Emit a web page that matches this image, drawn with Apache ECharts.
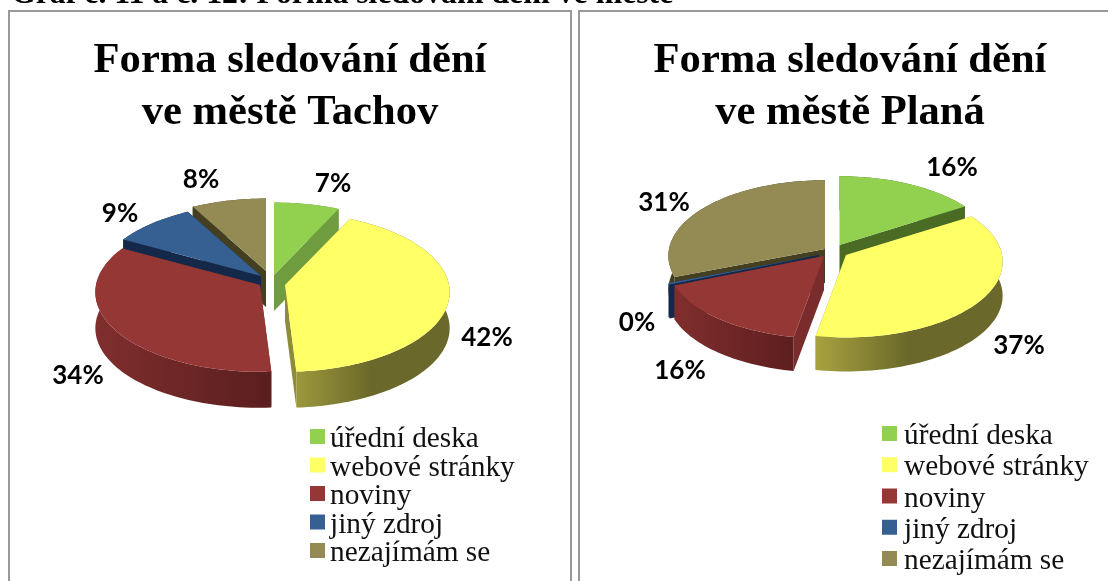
<!DOCTYPE html>
<html>
<head>
<meta charset="utf-8">
<style>html,body{margin:0;padding:0;background:#fff;overflow:hidden}#c{width:1108px;height:581px}</style>
<script src="https://cdn.jsdelivr.net/npm/echarts@6/dist/echarts.min.js"></script>
</head>
<body>
<div id="c"></div>
<script>
var categories = ['úřední deska', 'webové stránky', 'noviny', 'jiný zdroj', 'nezajímám se'];
var tachovValues = [7, 42, 34, 9, 8];
var planaValues = [16, 37, 16, 0.3, 31];
var pageHeading = 'Graf č. 11 a č. 12: Forma sledování dění ve městě';
var tachovTitle = 'Forma sledování dění\nve městě Tachov';
var planaTitle = 'Forma sledování dění\nve městě Planá';

var topColors = ['#92d050', '#ffff66', '#953735', '#376092', '#948a54'];

var pies = [
  { values: tachovValues, rx: 164, ry: 79, q: 0.09, depth: 36,
    shift: [[274, 275], [285, 285], [260, 285], [261, 276], [266, 271]],
    labels: [[333, 184], [487, 338], [78, 376], [120, 214], [201, 180]],
    radial: ['#6f9c3e', '#8e8c3a', '#7a2c2c', '#14294a', '#453f22'],
    wall: [['#6f9c3e', '#6f9c3e'], ['#9c983c', '#6a682a', '#6a682a'], ['#7f2e2d', '#5a1e1e'], ['#14294a', '#14294a'], ['#453f22', '#453f22']] },
  { values: planaValues, rx: 156, ry: 75, q: 0.09, depth: 34,
    shift: [[839.5, 245], [846, 255], [824, 256], [819, 255], [825, 249]],
    labels: [[952, 168], [1019, 346], [680, 371], [637, 323], [664, 203]],
    radial: ['#4a6b24', '#8e8c3a', '#7a2c2c', '#14294a', '#453f22'],
    wall: [['#4a6b24', '#4a6b24'], ['#a8a23f', '#6a682a', '#6a682a'], ['#7f2e2d', '#5e1e1e'], ['#14294a', '#14294a'], ['#453f22', '#453f22']] }
];

function angles(values) {
  var total = values.reduce(function (a, b) { return a + b; }, 0), acc = 0;
  return values.map(function (v) {
    var s = acc / total * Math.PI * 2; acc += v;
    return [s, acc / total * Math.PI * 2];
  });
}
function point(p, c, t, drop) {
  var X = Math.sin(t), Y = Math.cos(t), s = 1 / (1 + p.q * Y);
  return [c[0] + p.rx * s * X, c[1] - p.ry * s * Y + (drop || 0)];
}
function arc(p, c, a, b, drop) {
  var n = Math.max(2, Math.ceil((b - a) / 0.03)), out = [];
  for (var i = 0; i <= n; i++) out.push(point(p, c, a + (b - a) * i / n, drop));
  return out;
}
function gradient(stops) {
  return new echarts.graphic.LinearGradient(0, 0, 1, 0, stops.map(function (col, i) {
    return { offset: i / (stops.length - 1), color: col };
  }));
}
function makeRender(p, idx) {
  return function () {
    var ang = angles(p.values)[idx], c = p.shift[idx], d = p.depth;
    var top = arc(p, c, ang[0], ang[1], 0), low = arc(p, c, ang[0], ang[1], d).reverse();
    var rimA = top[0], rimB = top[top.length - 1];
    var face = function (r) {
      return { type: 'polygon', shape: { points: [c, r, [r[0], r[1] + d], [c[0], c[1] + d]] }, style: { fill: p.radial[idx] } };
    };
    return { type: 'group', silent: true, children: [
      face(rimA), face(rimB),
      { type: 'polygon', shape: { points: top.concat(low) }, style: { fill: gradient(p.wall[idx]) } },
      { type: 'polygon', shape: { points: [c].concat(top) }, style: { fill: topColors[idx] } },
      { type: 'text', style: { text: Math.round(p.values[idx]) + '%', x: p.labels[idx][0], y: p.labels[idx][1],
          textAlign: 'center', textVerticalAlign: 'middle', fontFamily: 'Lato', fontWeight: 'bold', fontSize: 26, fill: '#000' } }
    ] };
  };
}
var series = [];
pies.forEach(function (p) {
  var ang = angles(p.values);
  categories.forEach(function (name, i) {
    var mid = (ang[i][0] + ang[i][1]) / 2;
    series.push({ type: 'custom', name: name, coordinateSystem: 'none', data: [[p.values[i]]],
      renderItem: makeRender(p, i), itemStyle: { color: topColors[i] }, animation: false, silent: true,
      z: 10 - Math.cos(mid) * 5 });
  });
});
function legend(left, top, gap, pad) {
  return { data: categories, orient: 'vertical', left: left, top: top, padding: 0, itemWidth: 15, itemHeight: 15, itemGap: gap,
    icon: 'rect', selectedMode: false, formatter: '{a|{name}}',
    textStyle: { rich: { a: { fontFamily: 'Liberation Serif', fontSize: 29.3, color: '#111', padding: [6, 0, 0, pad] } } } };
}
function heading(text, x) {
  return { text: text, left: x, top: 35, textAlign: 'center', padding: 0,
    textStyle: { fontFamily: 'Liberation Serif', fontWeight: 'bold', fontSize: 42.6, lineHeight: 52, color: '#000' } };
}
var chart = echarts.init(document.getElementById('c'), null, { renderer: 'canvas' });
chart.setOption({
  animation: false,
  backgroundColor: '#fff',
  title: [heading(tachovTitle, 290), heading(planaTitle, 850)],
  legend: [legend(310, 425, -0.5, 0), legend(882, 422, 2.25, 2)],
  graphic: [
    { type: 'rect', silent: true, z: 0, shape: { x: 9, y: 11, width: 562, height: 600 }, style: { fill: 'none', stroke: '#999', lineWidth: 2 } },
    { type: 'rect', silent: true, z: 0, shape: { x: 579, y: 11, width: 600, height: 600 }, style: { fill: 'none', stroke: '#999', lineWidth: 2 } },
    { type: 'text', silent: true, z: 0, style: { text: pageHeading, x: 11, y: 11, textAlign: 'left', textVerticalAlign: 'bottom',
        fontFamily: 'Liberation Serif', fontWeight: 'bold', fontSize: 31.8, fill: '#000' } }
  ],
  series: series
});
</script>
</body>
</html>
